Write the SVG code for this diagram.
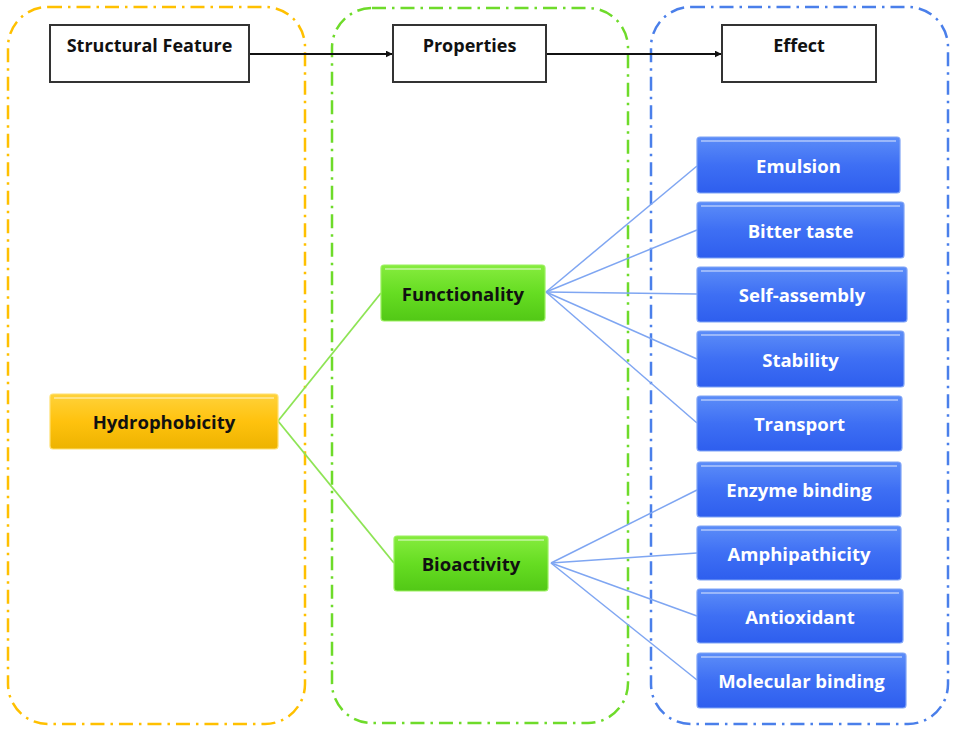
<svg xmlns="http://www.w3.org/2000/svg" width="957" height="732" viewBox="0 0 957 732">
<defs>
  <linearGradient id="gBlue" x1="0" y1="0" x2="0" y2="1">
    <stop offset="0" stop-color="#5C8DF8"/>
    <stop offset="0.5" stop-color="#3E6FF4"/>
    <stop offset="1" stop-color="#2E5EEE"/>
  </linearGradient>
  <linearGradient id="gOrange" x1="0" y1="0" x2="0" y2="1">
    <stop offset="0" stop-color="#FFD23A"/>
    <stop offset="0.5" stop-color="#FFC20E"/>
    <stop offset="1" stop-color="#EDB300"/>
  </linearGradient>
  <linearGradient id="gGreen" x1="0" y1="0" x2="0" y2="1">
    <stop offset="0" stop-color="#86EC3E"/>
    <stop offset="0.5" stop-color="#66DD22"/>
    <stop offset="1" stop-color="#52C816"/>
  </linearGradient>
  <marker id="arr" viewBox="0 0 10 10" refX="9" refY="5" markerWidth="7" markerHeight="7" orient="auto" markerUnits="userSpaceOnUse">
    <path d="M0,0 L10,5 L0,10 z" fill="#111"/>
  </marker>
</defs>
<style>
  .cont { fill: none; stroke-width: 2.5; stroke-dasharray: 14 6 2.5 6; }
  .hdr { fill: #fff; stroke: #333; stroke-width: 2; }
  .ht { font-family: "Open Sans", "Liberation Sans", sans-serif; font-weight: bold; font-size: 18px; fill: #111; text-anchor: middle; }
  .bt { font-family: "Open Sans", "Liberation Sans", sans-serif; font-weight: bold; font-size: 18.5px; text-anchor: middle; dominant-baseline: central; }
  .blue { fill: url(#gBlue); stroke: #7FA3F6; stroke-width: 1.2; }
  .orange { fill: url(#gOrange); stroke: #FFE070; stroke-width: 1.2; }
  .green { fill: url(#gGreen); stroke: #9CF060; stroke-width: 1.2; }
  .hl { stroke: #FFFFFF; stroke-opacity: 0.4; stroke-width: 2; }
  .wt { fill: #FFFFFF; }
  .kt { fill: #111111; }
  .cb { stroke: #7FA6F2; stroke-width: 1.5; fill: none; }
  .cg { stroke: #8EE455; stroke-width: 1.8; fill: none; }
  .ca { stroke: #111; stroke-width: 2.2; fill: none; }
</style>

<g id="containers">
  <rect class="cont" x="8" y="7" width="297" height="717" rx="40" stroke="#FFC000"/>
  <rect class="cont" x="332" y="8" width="296" height="715" rx="40" stroke="#6EDB2A"/>
  <rect class="cont" x="651" y="7" width="297" height="717" rx="40" stroke="#4A7FEA"/>
</g>

<g id="connectors">
  <line class="ca" x1="249" y1="54" x2="392" y2="54" marker-end="url(#arr)"/>
  <line class="ca" x1="546" y1="54" x2="721" y2="54" marker-end="url(#arr)"/>
  <path class="cg" d="M278,421 L381,293"/>
  <path class="cg" d="M278,421 L394,563"/>
  <path class="cb" d="M546,292 L697,166"/>
  <path class="cb" d="M546,292 L697,230"/>
  <path class="cb" d="M546,292 L697,294"/>
  <path class="cb" d="M546,292 L697,359"/>
  <path class="cb" d="M546,292 L697,423"/>
  <path class="cb" d="M551,563 L697,490"/>
  <path class="cb" d="M551,563 L697,553"/>
  <path class="cb" d="M551,563 L697,616"/>
  <path class="cb" d="M551,563 L697,680"/>
</g>

<g id="hdr-structural">
  <rect class="hdr" x="50" y="25" width="199" height="57"/>
  <text class="ht" x="149.5" y="52">Structural Feature</text>
</g>
<g id="hdr-properties">
  <rect class="hdr" x="393" y="25" width="153" height="57"/>
  <text class="ht" x="469.5" y="52">Properties</text>
</g>
<g id="hdr-effect">
  <rect class="hdr" x="722" y="25" width="154" height="57"/>
  <text class="ht" x="799" y="52">Effect</text>
</g>

<g id="hydrophobicity">
  <rect class="orange" x="50" y="394" width="228" height="55" rx="3"/>
  <line class="hl" x1="54" y1="398" x2="274" y2="398"/>
  <text class="bt kt" x="164" y="421.5">Hydrophobicity</text>
</g>
<g id="functionality">
  <rect class="green" x="381" y="265" width="164" height="56" rx="3"/>
  <line class="hl" x1="385" y1="269" x2="541" y2="269"/>
  <text class="bt kt" x="463" y="293">Functionality</text>
</g>
<g id="bioactivity">
  <rect class="green" x="394" y="536" width="154" height="55" rx="3"/>
  <line class="hl" x1="398" y1="540" x2="544" y2="540"/>
  <text class="bt kt" x="471" y="563.5">Bioactivity</text>
</g>

<g id="emulsion">
  <rect class="blue" x="697" y="137" width="203" height="56" rx="3"/>
  <line class="hl" x1="701" y1="141" x2="896" y2="141"/>
  <text class="bt wt" x="798.5" y="165">Emulsion</text>
</g>
<g id="bitter-taste">
  <rect class="blue" x="697" y="202" width="207" height="56" rx="3"/>
  <line class="hl" x1="701" y1="206" x2="900" y2="206"/>
  <text class="bt wt" x="800.5" y="230">Bitter taste</text>
</g>
<g id="self-assembly">
  <rect class="blue" x="697" y="267" width="210" height="55" rx="3"/>
  <line class="hl" x1="701" y1="271" x2="903" y2="271"/>
  <text class="bt wt" x="802" y="294.5">Self-assembly</text>
</g>
<g id="stability">
  <rect class="blue" x="697" y="331" width="207" height="56" rx="3"/>
  <line class="hl" x1="701" y1="335" x2="900" y2="335"/>
  <text class="bt wt" x="800.5" y="359">Stability</text>
</g>
<g id="transport">
  <rect class="blue" x="697" y="396" width="205" height="55" rx="3"/>
  <line class="hl" x1="701" y1="400" x2="898" y2="400"/>
  <text class="bt wt" x="799.5" y="423.5">Transport</text>
</g>
<g id="enzyme-binding">
  <rect class="blue" x="697" y="462" width="204" height="55" rx="3"/>
  <line class="hl" x1="701" y1="466" x2="897" y2="466"/>
  <text class="bt wt" x="799" y="489.5">Enzyme binding</text>
</g>
<g id="amphipathicity">
  <rect class="blue" x="697" y="526" width="204" height="54" rx="3"/>
  <line class="hl" x1="701" y1="530" x2="897" y2="530"/>
  <text class="bt wt" x="799" y="553">Amphipathicity</text>
</g>
<g id="antioxidant">
  <rect class="blue" x="697" y="589" width="206" height="54" rx="3"/>
  <line class="hl" x1="701" y1="593" x2="899" y2="593"/>
  <text class="bt wt" x="800" y="616">Antioxidant</text>
</g>
<g id="molecular-binding">
  <rect class="blue" x="697" y="653" width="209" height="55" rx="3"/>
  <line class="hl" x1="701" y1="657" x2="902" y2="657"/>
  <text class="bt wt" x="801.5" y="680.5">Molecular binding</text>
</g>
</svg>
